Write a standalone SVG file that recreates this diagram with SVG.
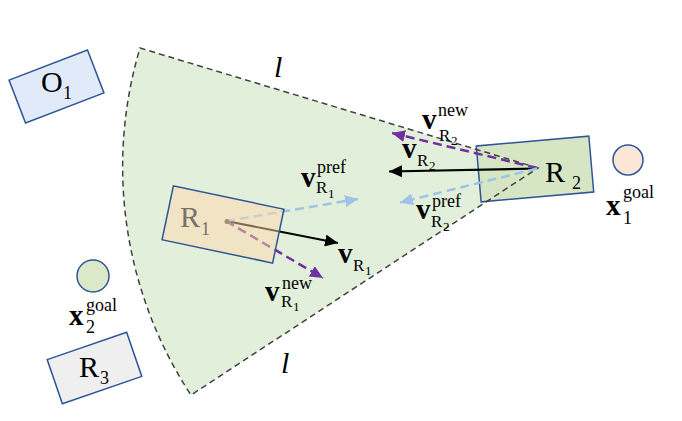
<svg xmlns="http://www.w3.org/2000/svg" width="682" height="421" viewBox="0 0 682 421">
<style>
.t{font-family:"Liberation Serif","Times New Roman",serif;fill:#000}
.big{font-size:30px}
.s16{font-size:18px}
.v{font-size:29px;font-weight:bold}
.sup{font-size:18px}
.sub{font-size:17px}
.sub2{font-size:13px}
.box{stroke:#2f5597;stroke-width:1.5}
.blk{stroke:#000;stroke-width:2.2;fill:none}
.pur{stroke:#7030a0;stroke-width:2.5;stroke-dasharray:9 5;fill:none}
.blu{stroke:#9dc3e6;stroke-width:2.5;stroke-dasharray:9 5;fill:none}
</style>
<defs>
<marker id="mk" markerUnits="userSpaceOnUse" markerWidth="14" markerHeight="12" refX="13" refY="6" orient="auto"><path d="M0,0 L13,6 L0,12 z" fill="#000"/></marker>
<marker id="mp" markerUnits="userSpaceOnUse" markerWidth="14" markerHeight="12" refX="13" refY="6" orient="auto"><path d="M0,0 L13,6 L0,12 z" fill="#7030a0"/></marker>
<marker id="mb" markerUnits="userSpaceOnUse" markerWidth="14" markerHeight="12" refX="13" refY="6" orient="auto"><path d="M0,0 L13,6 L0,12 z" fill="#9dc3e6"/></marker>
</defs>
<rect width="682" height="421" fill="#fff"/>
<g id="sector">
<path d="M538,168 L140,48 A415,415 0 0 0 191,395 Z" fill="#e2efda"/>
</g>
<g id="R2">
<g transform="translate(535,169) rotate(-5)"><rect x="-56.5" y="-28" width="113" height="56" fill="#d6e6c4" class="box"/></g>
<text class="t big" x="545" y="182">R</text><text class="t s16" x="572" y="189">2</text>
</g>
<g id="sector-outline">
<path d="M538,168 L140,48 A415,415 0 0 0 191,395 Z" fill="none" stroke="#404040" stroke-width="1.5" stroke-dasharray="6 4"/>
<text class="t big" x="274" y="77" font-style="italic">l</text>
<text class="t big" x="281" y="373" font-style="italic">l</text>
</g>
<g id="connectors">
<line class="blk" x1="537" y1="168.5" x2="389" y2="171.5" marker-end="url(#mk)"/>
<line class="pur" x1="537" y1="168" x2="392" y2="133" marker-end="url(#mp)"/>
<line class="blu" x1="537" y1="168.5" x2="400" y2="202.5" marker-end="url(#mb)"/>
<line class="blk" x1="226" y1="221" x2="338" y2="243" marker-end="url(#mk)"/>
<line class="blu" x1="226" y1="221" x2="358" y2="199" marker-end="url(#mb)"/>
<line class="pur" x1="226" y1="221" x2="323" y2="278" marker-end="url(#mp)"/>
<circle cx="227" cy="221.5" r="2.5" fill="#444"/>
</g>
<g id="R1">
<g transform="translate(223,224.5) rotate(11.9)"><rect x="-56.5" y="-27.5" width="113" height="55" fill="#fdd9ae" fill-opacity="0.5" class="box"/></g>
<text class="t big" x="180" y="227" style="fill:#7a726a">R</text><text class="t s16" x="201" y="235" style="fill:#7a726a">1</text>
</g>
<g id="O1">
<g transform="translate(56.5,86.5) rotate(-21)"><rect x="-42" y="-23" width="84" height="46" fill="#e0eaf8" class="box"/></g>
<text class="t big" x="41" y="92">O</text><text class="t s16" x="63" y="99">1</text>
</g>
<g id="R3">
<g transform="translate(94.5,368) rotate(-19)"><rect x="-42" y="-23.3" width="84" height="46.6" fill="#efefef" class="box"/></g>
<text class="t big" x="79" y="377">R</text><text class="t s16" x="100" y="384">3</text>
</g>
<g id="x1goal">
<circle cx="628" cy="160" r="15" fill="#fbe5d6" class="box"/>
<text class="t v" x="606" y="215">x</text><text class="t sup" x="623" y="198">goal</text><text class="t s16" x="623" y="224">1</text>
</g>
<g id="x2goal">
<circle cx="93" cy="276" r="16" fill="#dce9c9" class="box"/>
<text class="t v" x="69" y="325">x</text><text class="t sup" x="86" y="311">goal</text><text class="t s16" x="86" y="333">2</text>
</g>
<g id="labels">
<text class="t v" x="301" y="187">v</text><text class="t sup" x="317" y="173">pref</text><text class="t sub" x="316" y="193">R</text><text class="t sub2" x="328" y="198">1</text>
<text class="t v" x="338" y="263">v</text><text class="t sub" x="353" y="271">R</text><text class="t sub2" x="365" y="275">1</text>
<text class="t v" x="265" y="301">v</text><text class="t sup" x="282" y="289">new</text><text class="t sub" x="281" y="307">R</text><text class="t sub2" x="293" y="311">1</text>
<text class="t v" x="422" y="129">v</text><text class="t sup" x="438" y="116">new</text><text class="t sub" x="439" y="141">R</text><text class="t sub2" x="451" y="145">2</text>
<text class="t v" x="402" y="158">v</text><text class="t sub" x="417" y="166">R</text><text class="t sub2" x="429" y="170">2</text>
<text class="t v" x="416" y="219">v</text><text class="t sup" x="432" y="207">pref</text><text class="t sub" x="431" y="227">R</text><text class="t sub2" x="443" y="231">2</text>
</g>
</svg>
